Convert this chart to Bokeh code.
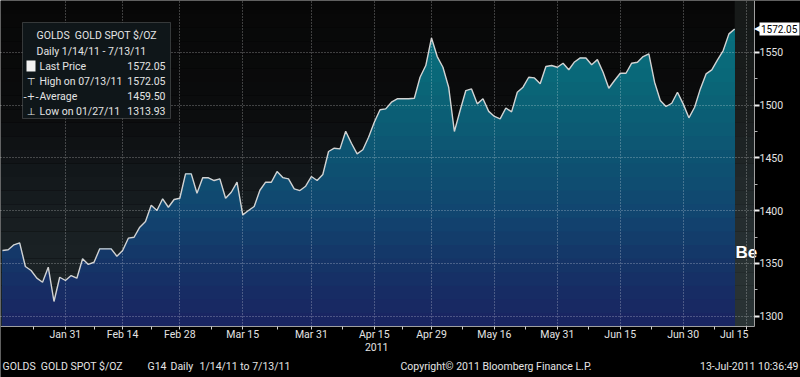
import numpy as np
import pandas as pd
from bokeh.plotting import figure
from bokeh.models import FixedTicker, BoxAnnotation, Label
from bokeh.embed import file_html
from bokeh.resources import INLINE

# ---------------- data ----------------
start_date = "2011-01-14"
end_date = "2011-07-13"
axis_end_date = "2011-07-29"

prices = [
    1362.2, 1362.9, 1367.6, 1369.5, 1347.1, 1343.3, 1336.0, 1332.2, 1346.4, 1313.93,
    1336.9, 1333.8, 1338.5, 1336.0, 1354.4, 1349.0, 1351.1, 1363.8, 1363.8, 1363.8,
    1356.8, 1362.2, 1373.9, 1374.8, 1384.3, 1389.7, 1405.0, 1400.1, 1411.2, 1403.2,
    1410.5, 1411.7, 1434.8, 1434.8, 1416.5, 1431.1, 1431.1, 1428.5, 1430.1, 1411.7,
    1417.4, 1426.9, 1396.0, 1400.1, 1403.9, 1419.3, 1426.9, 1426.9, 1437.0, 1431.3,
    1430.1, 1420.6, 1419.0, 1423.1, 1432.3, 1428.5, 1434.2, 1456.0, 1459.1, 1458.5,
    1475.2, 1463.8, 1453.8, 1457.6, 1469.5, 1483.7, 1495.5, 1496.4, 1502.7, 1505.9,
    1505.9, 1505.9, 1506.4, 1526.3, 1537.4, 1563.5, 1545.9, 1535.8, 1516.9, 1474.9,
    1494.8, 1513.7, 1515.3, 1501.1, 1505.9, 1494.0, 1489.2, 1486.9, 1497.2, 1493.5,
    1512.1, 1516.9, 1526.3, 1525.7, 1520.1, 1536.5, 1537.4, 1535.8, 1539.6, 1533.4,
    1540.8, 1544.7, 1544.5, 1538.2, 1543.0, 1531.1, 1515.9, 1523.2, 1530.1, 1530.1,
    1539.6, 1540.5, 1545.9, 1548.5, 1521.6, 1504.3, 1498.6, 1501.7, 1512.1, 1501.1,
    1487.9, 1497.9, 1515.3, 1529.5, 1533.3, 1542.8, 1551.6, 1567.4, 1572.05,
]

tick_dates = ["2011-01-31", "2011-02-14", "2011-02-28", "2011-03-15", "2011-03-31",
              "2011-04-15", "2011-04-29", "2011-05-16", "2011-05-31", "2011-06-15",
              "2011-06-30", "2011-07-15"]
tick_labels = ["Jan 31", "Feb 14", "Feb 28", "Mar 15", "Mar 31", "Apr 15",
               "Apr 29", "May 16", "May 31", "Jun 15", "Jun 30", "Jul 15"]
y_ticks = [1300, 1350, 1400, 1450, 1500, 1550]
y_minor = [1325, 1375, 1425, 1475, 1525]

legend_title = "GOLDS\u00a0 GOLD SPOT $/OZ"
legend_period = "Daily 1/14/11 - 7/13/11"
legend_names = ["Last Price", "High on 07/13/11", "Average", "Low on 01/27/11"]
legend_values = ["1572.05", "1572.05", "1459.50", "1313.93"]
last_price = 1572.05
year_label = "2011"
footer_left = ["GOLDS\u00a0 GOLD SPOT $/OZ", "G14", "Daily", "1/14/11 to 7/13/11"]
footer_copy = "Copyright\u00a9 2011 Bloomberg Finance L.P."
footer_time = "13-Jul-2011 10:36:49"

# ---------------- geometry ----------------
days = pd.bdate_range(start_date, axis_end_date)
pos = {d.strftime("%Y-%m-%d"): i for i, d in enumerate(days)}
idx = np.arange(len(prices))
vals = np.array(prices)
tick_idx = [pos[d] for d in tick_dates]
minor_idx = [tick_idx[0] / 2] + [(a + b) / 2 for a, b in zip(tick_idx[:-1], tick_idx[1:])]

W, H = 800, 377
PW, PH = 754, 326          # plot area (pixels) inside the full-canvas frame
PXU = 5.72                 # px per business day
PLOT_YS, PLOT_YE = 1290.25, 1599.0
PYU = PH / (PLOT_YE - PLOT_YS)
XS = -2 / PXU
XE = XS + W / PXU
YE = PLOT_YE
YS = PLOT_YE - H / PYU


def X(px):
    return XS + px / PXU


def Y(py):
    return YE - py / PYU


def hex2rgb(h):
    h = h.lstrip("#")
    return np.array([int(h[i:i + 2], 16) for i in (0, 2, 4)], dtype=float)


def grad(stops, py):
    ys = [s[0] for s in stops]
    cols = [hex2rgb(s[1]) for s in stops]
    r = [np.interp(py, ys, [c[k] for c in cols]) for k in range(3)]
    return "#%02x%02x%02x" % tuple(int(round(v)) for v in r)


bg_stops = [(0, "#070707"), (110, "#0b0c0d"), (160, "#111518"), (210, "#171d20"),
            (260, "#1b2225"), (326, "#1d2528")]
fill_stops = [(20, "#07717f"), (90, "#0a6577"), (150, "#0d5572"), (210, "#114670"),
              (265, "#153467"), (326, "#1a2361")]

FONT = "Roboto"
FS = 10.5
TXT = "#e4e4e4"

p = figure(width=W, height=H, x_range=(XS, XE), y_range=(YS, YE),
           y_axis_location="right", output_backend="svg", toolbar_location=None,
           min_border_left=0, min_border_top=0, min_border_right=0,
           min_border_bottom=0, background_fill_color="black",
           border_fill_color="black", outline_line_color=None)

# background bands (area above the line)
NB = 24
edges = np.linspace(PLOT_YS, PLOT_YE, NB + 1)
for k in range(NB):
    b, t = edges[k], edges[k + 1]
    pyc = (YE - (b + t) / 2) * PYU
    p.add_layout(BoxAnnotation(bottom=b, top=t, right=X(PW), fill_color=grad(bg_stops, pyc),
                               fill_alpha=1, line_color=None, level="underlay"))

# area fill bands, drawn top-down so each band covers the ones above it
for k in reversed(range(NB)):
    b, t = edges[k], edges[k + 1]
    pyc = (YE - (b + t) / 2) * PYU
    top = YE if k == NB - 1 else t
    p.varea(x=idx, y1=PLOT_YS, y2=np.minimum(vals, top), fill_color=grad(fill_stops, pyc))

p.line(idx, vals, line_color="#d2d2d2", line_width=1.4)

# future shaded region
p.add_layout(BoxAnnotation(left=idx[-1], right=X(PW), bottom=PLOT_YS,
                           fill_color="#7a9088", fill_alpha=0.14, line_color=None,
                           level="underlay"))

# grid
for g in (p.xgrid[0], p.ygrid[0]):
    g.grid_line_color = "white"
    g.grid_line_alpha = 0.45
    g.grid_line_dash = "1 2"
    g.level = "guide"

# masks outside the plot area (hide grid overflow)
p.add_layout(BoxAnnotation(top=PLOT_YS, fill_color="black", fill_alpha=1, line_color=None))
p.add_layout(BoxAnnotation(left=X(PW), fill_color="black", fill_alpha=1, line_color=None))

# axes, fixed at the plot-area edges
xax = p.xaxis[0]
xax.fixed_location = PLOT_YS
xax.bounds = (XS, X(PW))
xax.level = "overlay"
xax.ticker = FixedTicker(ticks=tick_idx, minor_ticks=minor_idx)
xax.major_label_overrides = {t: (lab if lab != "Jul 15" else "") for t, lab in zip(tick_idx, tick_labels)}
xax.axis_line_color = "#a0a0a0"
xax.major_tick_line_color = "#d0d0d0"
xax.minor_tick_line_color = "#d0d0d0"
xax.major_tick_out = 3
xax.major_tick_in = 0
xax.minor_tick_out = 3
xax.minor_tick_in = 0
xax.major_label_standoff = -2
xax.major_label_text_font = FONT
xax.major_label_text_font_size = f"{FS}px"
xax.major_label_text_color = TXT

yax = p.yaxis[0]
yax.fixed_location = X(PW)
yax.bounds = (PLOT_YS, PLOT_YE)
yax.level = "overlay"
yax.ticker = FixedTicker(ticks=y_ticks, minor_ticks=y_minor)
yax.axis_line_color = "#a0a0a0"
yax.major_tick_line_color = "#f0f0f0"
yax.major_tick_line_width = 2
yax.major_tick_out = 5
yax.major_tick_in = 0
yax.minor_tick_line_color = "#b0b0b0"
yax.minor_tick_out = 3
yax.minor_tick_in = 0
yax.major_label_standoff = 0
yax.major_label_text_font = FONT
yax.major_label_text_font_size = f"{FS}px"
yax.major_label_text_color = TXT


def txt(s, px, py, size=FS, align="left", color=TXT, bold=False, font=FONT,
        level="annotation"):
    p.add_layout(Label(x=X(px), y=Y(py), text=s, text_align=align, text_baseline="middle",
                       text_font_size=f"{size}px", text_color=color, text_font=font,
                       text_font_style="bold" if bold else "normal", level=level))


# watermark fragment
txt("Be", 735, 252, size=17, color="white", bold=True, font="Liberation Sans")

# legend box
p.add_layout(BoxAnnotation(left=X(22), right=X(170), top=Y(22), bottom=Y(118),
                           fill_color="#0f1619", fill_alpha=1,
                           line_color="#9a9a9a", line_width=1))
p.add_layout(BoxAnnotation(left=X(26), right=X(35), top=Y(60), bottom=Y(71),
                           fill_color="#f2f2f2", fill_alpha=1, line_color=None))
txt(legend_title, 36, 35)
txt(legend_period, 36, 51)
icons = [None, "\u22a4", "-+-", "\u22a5"]
rows_y = [65.5, 80.5, 95.5, 110.5]
for name, v, ic, ry in zip(legend_names, legend_values, icons, rows_y):
    if ic is not None:
        txt(ic, 30.5, ry, size=10, align="center", font="DejaVu Sans")
    txt(name, 39, ry)
    txt(v, 165, ry, align="right")

# last price tag on the value axis
tag_py = (YE - last_price) * PYU
p.add_layout(BoxAnnotation(left=X(759), right=X(799), top=Y(tag_py - 6.5),
                           bottom=Y(tag_py + 6.5), fill_color="white", fill_alpha=1,
                           line_color=None, level="overlay"))
txt("\u25c0", 756.5, tag_py, size=8, align="center", color="white", font="DejaVu Sans",
    level="overlay")
txt("1572.05", 760.5, tag_py, size=10, color="black", level="overlay")

# x-axis extras
txt("Jul 15", 748, 333.5, align="right")
txt(year_label, 388, 346, align="right")

# footer
for s, fx in zip(footer_left, [2, 147, 170, 199]):
    txt(s, fx, 366)
txt(footer_copy, 400, 366)
txt(footer_time, 798, 366, align="right")

open("out.html", "w").write(file_html(p, INLINE))
